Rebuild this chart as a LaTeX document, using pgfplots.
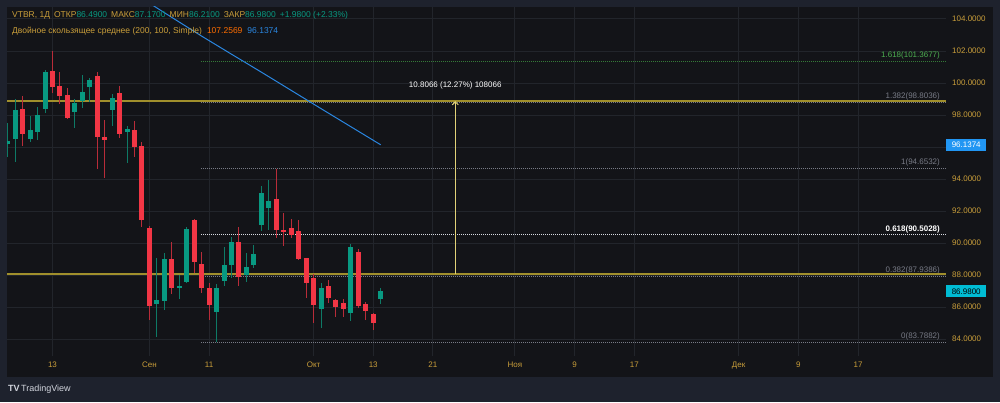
\documentclass[border=0pt]{standalone}
\usepackage{fontspec}
\setmainfont{Liberation Sans}
\usepackage{pgfplots}
\usepackage{pgfplotstable}
\pgfplotsset{compat=1.18}
\usetikzlibrary{arrows.meta}

\definecolor{frame}{RGB}{30,34,45}
\definecolor{panel}{RGB}{19,20,24}
\definecolor{gridc}{RGB}{34,37,43}
\definecolor{gold}{RGB}{201,158,58}
\definecolor{upc}{RGB}{8,153,129}
\definecolor{dnc}{RGB}{242,54,69}
\definecolor{upw}{RGB}{14,122,102}
\definecolor{dnw}{RGB}{185,44,57}
\definecolor{tvteal}{RGB}{8,153,129}
\definecolor{mablue}{RGB}{42,134,224}
\definecolor{boxblue}{RGB}{33,150,243}
\definecolor{cyanbox}{RGB}{0,188,212}
\definecolor{fibgray}{RGB}{120,123,134}
\definecolor{fibgreen}{RGB}{76,175,80}
\definecolor{fibwhite}{RGB}{215,218,225}
\definecolor{yline}{RGB}{160,143,44}
\definecolor{arrowc}{RGB}{225,210,120}
\definecolor{orangev}{RGB}{255,109,0}
\definecolor{txt}{RGB}{209,212,220}

\pgfplotstableread{
i o h l c
-49 96.19 97.50 95.38 96.38
-48 96.50 99.00 95.06 98.31
-46 96.50 97.94 96.31 97.06
-45 96.94 98.50 96.44 98.00
-44 98.38 100.81 98.13 100.69
-40 98.19 99.00 97.19 98.75
-39 98.88 100.50 98.44 99.44
-38 99.75 100.31 98.81 100.19
-35 98.31 99.31 97.31 99.06
-33 96.94 97.31 95.00 97.13
-29 86.19 89.06 84.13 86.44
-28 86.38 89.38 85.81 89.00
-26 87.25 88.00 86.50 87.31
-25 87.56 91.00 87.50 90.88
-21 85.69 87.44 83.79 87.19
-20 87.63 89.75 87.31 88.63
-19 88.63 90.38 87.81 90.06
-17 88.00 89.38 87.56 88.50
-16 88.63 89.88 88.44 89.31
-15 91.13 93.56 90.75 93.13
-14 92.19 93.94 90.81 92.63
-7 85.88 87.50 84.69 87.19
-3 85.63 89.94 85.13 89.75
1 86.49 87.17 86.21 86.98
}\upcandles

\pgfplotstableread{
i o h l c
-47 98.38 99.19 96.06 96.81
-43 100.75 102.00 99.38 99.75
-42 99.81 100.69 98.69 99.19
-41 99.25 99.69 97.75 97.81
-37 100.44 100.69 94.63 96.63
-36 96.63 97.69 94.06 96.44
-34 99.38 99.81 96.56 96.81
-32 97.06 97.63 95.38 96.00
-31 96.06 96.31 91.00 91.44
-30 90.94 91.06 85.19 86.06
-27 89.00 90.06 86.81 87.19
-24 91.44 91.50 88.13 88.81
-23 88.69 89.44 86.88 87.19
-22 87.19 87.50 85.19 86.13
-18 90.06 91.00 87.31 87.88
-13 92.75 94.65 90.31 90.81
-12 90.81 91.88 89.81 90.69
-11 90.94 91.50 90.31 90.50
-10 90.75 91.44 88.94 89.00
-9 89.06 89.06 86.56 87.50
-8 87.81 88.06 85.00 86.13
-6 87.31 87.69 86.25 86.56
-5 86.44 86.50 85.38 86.00
-4 86.25 86.50 85.38 85.88
-2 89.44 89.63 85.94 86.06
-1 86.19 86.31 85.19 85.75
0 85.56 85.63 84.56 85.00
}\dncandles

\begin{document}
\begin{tikzpicture}[x=1bp,y=1bp]
\useasboundingbox (0,0) rectangle (1000,402);
\fill[frame] (0,0) rectangle (1000,402);
\fill[panel] (7,25) rectangle (993,395);
\begin{axis}[
  at={(7bp,46bp)}, anchor=south west,
  width=939bp, height=349bp, scale only axis,
  xmin=-49.1, xmax=76.8, ymin=82.94, ymax=104.75,
  clip mode=individual,
  axis line style={draw=none},
  major tick length=0pt,
  grid=major, major grid style={draw=gridc, line width=1bp},
  xtick={-43,-30,-22,-8,0,8,19,27,35,49,57,65},
  xticklabels={13,Сен,11,Окт,13,21,Ноя,9,17,Дек,9,17},
  ytick={84,86,88,90,92,94,96,98,100,102,104},
  yticklabels={84.0000,86.0000,88.0000,90.0000,92.0000,94.0000,,98.0000,100.0000,102.0000,104.0000},
  yticklabel pos=right,
  ticklabel style={font=\fontsize{8bp}{9bp}\selectfont, text=gold},
  yticklabel style={anchor=west, inner sep=0pt, xshift=6bp},
  xticklabel style={anchor=north, inner sep=0pt, yshift=-6bp},
]
% fib levels
\draw[fibgreen!70!black, line width=1bp, dash pattern=on 1bp off 1bp] (axis cs:-23.06,101.3677) -- (axis cs:76.8,101.3677);
\draw[fibgray, line width=1bp, dash pattern=on 1bp off 1bp] (axis cs:-23.06,98.8036) -- (axis cs:76.8,98.8036);
\draw[fibgray, line width=1bp, dash pattern=on 1bp off 1bp] (axis cs:-23.06,94.6532) -- (axis cs:76.8,94.6532);
\draw[fibwhite, line width=1bp, dash pattern=on 1bp off 1bp] (axis cs:-23.06,90.5028) -- (axis cs:76.8,90.5028);
\draw[fibgray, line width=1bp, dash pattern=on 1bp off 1bp] (axis cs:-23.06,87.9386) -- (axis cs:76.8,87.9386);
\draw[fibgray, line width=1bp, dash pattern=on 1bp off 1bp] (axis cs:-23.06,83.7882) -- (axis cs:76.8,83.7882);
\begin{scope}[every node/.style={anchor=south east, inner sep=0pt, yshift=2bp, font=\fontsize{8bp}{9bp}\selectfont}]
\node[text=fibgreen] at (axis cs:76.0,101.3677) {1.618(101.3677)};
\node[text=fibgray] at (axis cs:76.0,98.8036) {1.382(98.8036)};
\node[text=fibgray] at (axis cs:76.0,94.6532) {1(94.6532)};
\node[text=white] at (axis cs:76.0,90.5028) {\bfseries 0.618(90.5028)};
\node[text=fibgray] at (axis cs:76.0,87.9386) {0.382(87.9386)};
\node[text=fibgray] at (axis cs:76.0,83.7882) {0(83.7882)};
\end{scope}
% yellow horizontal lines
\draw[yline, line width=1.5bp] (axis cs:-49.1,98.87) -- (axis cs:76.8,98.87);
\draw[yline, line width=1.5bp] (axis cs:-49.1,88.06) -- (axis cs:76.8,88.06);
% candle wicks
\addplot[draw=none, mark=none, forget plot, error bars/.cd, y dir=both, y explicit, error mark=none,
  error bar style={draw=upw, solid, line width=1bp}]
  table[x=i, y expr={(\thisrow{h}+\thisrow{l})/2}, y error expr={(\thisrow{h}-\thisrow{l})/2}] {\upcandles};
\addplot[draw=none, mark=none, forget plot, error bars/.cd, y dir=both, y explicit, error mark=none,
  error bar style={draw=dnw, solid, line width=1bp}]
  table[x=i, y expr={(\thisrow{h}+\thisrow{l})/2}, y error expr={(\thisrow{h}-\thisrow{l})/2}] {\dncandles};
% candle bodies
\addplot[draw=none, mark=none, forget plot, error bars/.cd, y dir=both, y explicit, error mark=none,
  error bar style={draw=upc, solid, line width=5bp}]
  table[x=i, y expr={(\thisrow{o}+\thisrow{c})/2}, y error expr={max(abs(\thisrow{o}-\thisrow{c})/2,0.035)}] {\upcandles};
\addplot[draw=none, mark=none, forget plot, error bars/.cd, y dir=both, y explicit, error mark=none,
  error bar style={draw=dnc, solid, line width=5bp}]
  table[x=i, y expr={(\thisrow{o}+\thisrow{c})/2}, y error expr={max(abs(\thisrow{o}-\thisrow{c})/2,0.035)}] {\dncandles};
% moving average
\addplot[mablue, line width=1bp, mark=none] coordinates {(-31,105.28) (-27,104.10) (-23,102.93) (-19,101.80) (-15,100.68) (-11,99.54) (-7,98.40) (-3,97.27) (1,96.14)};
% measurement arrow
\draw[arrowc, line width=1bp, -{Straight Barb[length=3bp, width=6bp]}] (axis cs:11,88.06) -- (axis cs:11,98.87);
\node[text=white, inner sep=0pt, font=\fontsize{8bp}{9bp}\selectfont] at (axis cs:11,99.875) {10.8066 (12.27\%) 108066};
% price boxes
\node[fill=boxblue, text=white, anchor=west, inner sep=0pt, minimum width=40bp, minimum height=12bp, font=\fontsize{8bp}{9bp}\selectfont] at (axis cs:76.8,96.1374) {96.1374};
\node[fill=cyanbox, text=black, anchor=west, inner sep=0pt, minimum width=40bp, minimum height=12bp, font=\fontsize{8bp}{9bp}\selectfont] at (axis cs:76.8,86.98) {86.9800};
\end{axis}
% legend
\node[anchor=west, inner sep=0pt, font=\fontsize{8.5bp}{10bp}\selectfont] at (12,387)
 {\textcolor{gold}{VTBR, 1Д}\hspace{4bp}\textcolor{gold}{ОТКР}\textcolor{tvteal}{86.4900}\hspace{4bp}\textcolor{gold}{МАКС}\textcolor{tvteal}{87.1700}\hspace{4bp}\textcolor{gold}{МИН}\textcolor{tvteal}{86.2100}\hspace{4bp}\textcolor{gold}{ЗАКР}\textcolor{tvteal}{86.9800}\hspace{4bp}\textcolor{tvteal}{+1.9800 (+2.33\%)}};
\node[anchor=west, inner sep=0pt, font=\fontsize{8.5bp}{10bp}\selectfont] at (12,371)
 {\textcolor{gold}{Двойное скользящее среднее (200, 100, Simple)}\hspace{5bp}\textcolor{orangev}{107.2569}\hspace{5bp}\textcolor{mablue}{96.1374}};
% logo
\node[anchor=west, inner sep=0pt, text=txt, font=\fontsize{9bp}{10bp}\selectfont] at (8,13) {\textbf{TV}\hspace{1.5bp}TradingView};
\end{tikzpicture}
\end{document}
